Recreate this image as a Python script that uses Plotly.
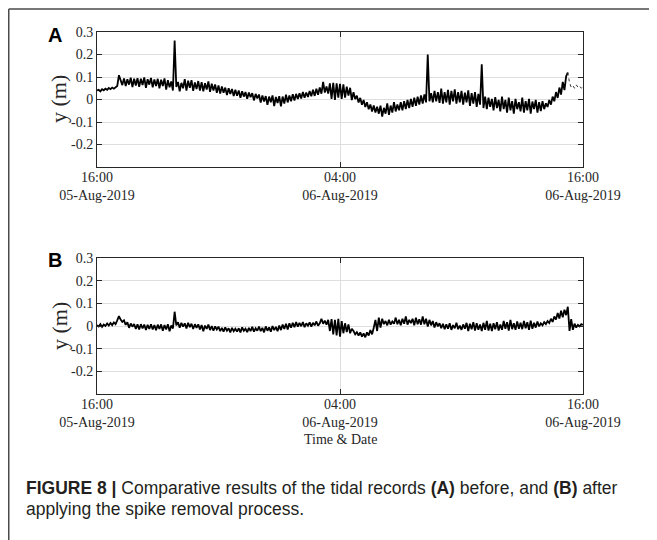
import pandas as pd
import plotly.graph_objects as go

# ---------------- data (metres, 5-minute samples from 16:00 05-Aug-2019) ----------------
y_before = [
    # 16:00
    0.040, 0.043, 0.036, 0.046, 0.041, 0.048, 0.043, 0.051, 0.046, 0.053, 0.048, 0.056,
    # 17:00
    0.060, 0.108, 0.082, 0.064, 0.094, 0.060, 0.090, 0.066, 0.097, 0.055, 0.092, 0.062,
    # 18:00
    0.095, 0.056, 0.092, 0.064, 0.098, 0.052, 0.090, 0.066, 0.096, 0.054, 0.089, 0.060,
    # 19:00
    0.092, 0.050, 0.088, 0.060, 0.094, 0.044, 0.086, 0.054, 0.080, 0.040, 0.262, 0.056,
    # 20:00
    0.078, 0.036, 0.074, 0.050, 0.090, 0.040, 0.084, 0.052, 0.086, 0.038, 0.076, 0.046,
    # 21:00
    0.082, 0.040, 0.077, 0.036, 0.072, 0.044, 0.080, 0.034, 0.070, 0.040, 0.067, 0.030,
    # 22:00
    0.062, 0.026, 0.058, 0.030, 0.053, 0.020, 0.050, 0.025, 0.047, 0.015, 0.043, 0.017,
    # 23:00
    0.040, 0.008, 0.037, 0.013, 0.033, 0.003, 0.031, 0.010, 0.028, -0.004, 0.025, 0.005,
    # 00:00
    0.022, -0.014, 0.018, -0.009, 0.015, -0.024, 0.013, -0.012, 0.018, -0.029, 0.011, -0.016,
    # 01:00
    0.015, -0.030, 0.013, -0.018, 0.021, -0.013, 0.018, -0.008, 0.023, -0.004, 0.025, 0.002,
    # 02:00
    0.028, 0.004, 0.033, 0.008, 0.031, 0.011, 0.038, 0.014, 0.043, 0.016, 0.048, 0.021,
    # 03:00
    0.053, 0.026, 0.078, 0.031, 0.058, 0.026, 0.072, 0.003, 0.074, -0.002, 0.072, 0.008,
    # 04:00
    0.070, 0.003, 0.067, 0.008, 0.057, 0.017, 0.052, -0.003, 0.032, 0.002, 0.017, -0.013,
    # 05:00
    0.007, -0.023, -0.002, -0.033, -0.012, -0.043, -0.022, -0.053, -0.027, -0.058, -0.032, -0.063,
    # 06:00
    -0.027, -0.076, -0.037, -0.063, -0.017, -0.068, -0.027, -0.058, -0.012, -0.053, -0.022, -0.048,
    # 07:00
    -0.012, -0.048, -0.007, -0.043, -0.002, -0.038, 0.003, -0.033, 0.008, -0.028, 0.013, -0.023,
    # 08:00
    0.018, -0.018, 0.023, -0.013, 0.200, -0.008, 0.028, -0.013, 0.038, -0.008, 0.033, -0.015,
    # 09:00
    0.048, -0.018, 0.033, -0.013, 0.043, -0.023, 0.038, -0.008, 0.045, -0.018, 0.033, -0.013,
    # 10:00
    0.038, -0.023, 0.031, -0.013, 0.041, -0.028, 0.028, -0.018, 0.033, -0.033, 0.025, -0.023,
    # 11:00
    0.157, -0.038, 0.013, -0.043, 0.008, -0.033, 0.003, -0.048, 0.011, -0.038, -0.002, -0.053,
    # 12:00
    0.013, -0.043, -0.002, -0.058, 0.008, -0.048, -0.007, -0.063, 0.003, -0.043, -0.012, -0.053,
    # 13:00
    0.008, -0.058, -0.007, -0.048, 0.003, -0.063, -0.009, -0.043, -0.002, -0.058, -0.012, -0.051,
    # 14:00
    -0.007, -0.043, -0.017, -0.033, -0.002, -0.023, 0.013, -0.008, 0.033, 0.007, 0.053, 0.022,
    # 15:00
    0.078, 0.042, 0.103, 0.120,
]
y_before_tail = [0.120, 0.075, 0.055, 0.062, 0.050, 0.065, 0.055, 0.060, 0.050, 0.058]

y_after = [
    # 16:00
    0.003, -0.002, 0.008, -0.004, 0.006, 0.000, 0.011, 0.002, 0.013, 0.004, 0.016, 0.008,
    # 17:00
    0.025, 0.044, 0.028, 0.018, 0.025, 0.005, 0.016, -0.008, 0.011, -0.003, 0.009, -0.013,
    # 18:00
    0.007, -0.015, 0.008, -0.011, 0.006, -0.018, 0.005, -0.013, 0.008, -0.015, 0.004, -0.019,
    # 19:00
    0.006, -0.013, 0.007, -0.021, 0.004, -0.015, 0.008, -0.023, 0.002, -0.011, 0.063, 0.003,
    # 20:00
    0.017, -0.008, 0.014, -0.003, 0.012, -0.011, 0.014, -0.005, 0.010, -0.013, 0.008, -0.008,
    # 21:00
    0.007, -0.015, 0.004, -0.023, 0.002, -0.013, 0.006, -0.018, 0.000, -0.021, -0.002, -0.015,
    # 22:00
    -0.003, -0.023, -0.008, -0.025, -0.006, -0.021, -0.010, -0.028, -0.008, -0.023, -0.012, -0.025,
    # 23:00
    -0.010, -0.028, -0.006, -0.021, -0.012, -0.027, -0.008, -0.023, -0.004, -0.025, -0.010, -0.021,
    # 00:00
    -0.003, -0.023, -0.008, -0.028, -0.002, -0.021, -0.006, -0.025, 0.000, -0.018, -0.004, -0.023,
    # 01:00
    0.002, -0.018, 0.006, -0.013, 0.010, -0.015, 0.012, -0.008, 0.014, -0.005, 0.017, -0.003,
    # 02:00
    0.014, -0.001, 0.017, -0.005, 0.012, 0.001, 0.016, -0.003, 0.014, 0.003, 0.020, 0.001,
    # 03:00
    0.012, 0.032, 0.010, 0.024, 0.006, 0.027, -0.022, 0.030, -0.037, 0.027, -0.042, 0.032,
    # 04:00
    -0.047, 0.022, -0.032, 0.012, -0.027, 0.007, -0.032, -0.012, -0.022, -0.037, -0.027, -0.042,
    # 05:00
    -0.028, -0.047, -0.033, -0.050, -0.028, -0.042, -0.018, -0.037, -0.008, 0.027, -0.022, 0.037,
    # 06:00
    -0.007, 0.032, 0.008, 0.022, 0.003, 0.027, 0.006, 0.020, 0.010, 0.037, 0.008, 0.027,
    # 07:00
    0.003, 0.032, 0.010, 0.042, 0.006, 0.027, 0.013, 0.032, 0.003, 0.037, 0.008, 0.030,
    # 08:00
    0.006, 0.042, 0.008, 0.032, -0.002, 0.027, 0.003, 0.022, -0.007, 0.017, -0.002, 0.012,
    # 09:00
    -0.010, 0.010, -0.014, 0.007, -0.012, 0.012, -0.017, 0.004, -0.010, 0.014, -0.014, 0.002,
    # 10:00
    -0.017, 0.007, -0.012, 0.014, -0.022, 0.010, -0.014, 0.017, -0.020, 0.012, -0.017, 0.007,
    # 11:00
    -0.022, 0.014, -0.017, 0.022, -0.020, 0.010, -0.022, 0.012, -0.014, 0.017, -0.020, 0.007,
    # 12:00
    -0.017, 0.022, -0.012, 0.017, -0.020, 0.027, -0.014, 0.012, -0.017, 0.020, -0.012, 0.014,
    # 13:00
    -0.014, 0.022, -0.010, 0.017, -0.017, 0.024, -0.012, 0.014, -0.007, 0.020, -0.002, 0.012,
    # 14:00
    0.003, 0.017, 0.008, 0.022, 0.013, 0.032, 0.018, 0.042, 0.028, 0.057, 0.033, 0.067,
    # 15:00
    0.038, 0.072, 0.048, 0.085, -0.022, 0.030, -0.017, 0.010, -0.007, 0.005, -0.002, 0.008,
    # 16:00
    0.005,
]

x_ticks = ["2019-08-05 16:00", "2019-08-06 04:00", "2019-08-06 16:00"]
x_tick_labels = ["16:00<br>05-Aug-2019", "04:00<br>06-Aug-2019", "16:00<br>06-Aug-2019"]
y_ticks = [-0.3, -0.2, -0.1, 0, 0.1, 0.2, 0.3]
y_tick_labels = ["", "-0.2", "-0.1", "0", "0.1", "0.2", "0.3"]
caption_1 = "<b>FIGURE 8 |</b> Comparative results of the tidal records <b>(A)</b> before, and <b>(B)</b> after"
caption_2 = "applying the spike removal process."

# ---------------- build ----------------
start = pd.Timestamp("2019-08-05 16:00")
t_before = pd.date_range(start, periods=len(y_before), freq="5min")
t_tail = pd.date_range(t_before[-1], periods=len(y_before_tail), freq="5min")
t_after = pd.date_range(start, periods=len(y_after), freq="5min")

# page body keeps its default 8px margin, so the figure is 8px smaller than the window
OFF = 8
W, H = 657 - OFF, 540 - OFF
def px(x):
    return (x - OFF) / W
def py(y):
    return 1 - (y - OFF) / H

fig = go.Figure()
fig.add_trace(go.Scatter(x=t_before, y=y_before, mode="lines",
                         line=dict(color="black", width=1.8), xaxis="x", yaxis="y", showlegend=False))
fig.add_trace(go.Scatter(x=t_tail, y=y_before_tail, mode="lines",
                         line=dict(color="#333333", width=1, dash="dot"), xaxis="x", yaxis="y", showlegend=False))
fig.add_trace(go.Scatter(x=t_after, y=y_after, mode="lines",
                         line=dict(color="black", width=1.8), xaxis="x2", yaxis="y2", showlegend=False))

serif = "Liberation Serif, Times New Roman, serif"
sans = "Liberation Sans, Arial, Helvetica, sans-serif"
tick_font = dict(family=serif, size=14, color="#262626")
axcol = "#262626"
xcommon = dict(type="date", range=[x_ticks[0], x_ticks[-1]], tickvals=x_ticks, ticktext=x_tick_labels,
               ticks="inside", ticklen=5, tickcolor=axcol, showline=True, linecolor=axcol, linewidth=1,
               mirror="ticks", showgrid=True, gridcolor="#dedede", gridwidth=1, tickfont=tick_font,
               ticklabelstandoff=-3, zeroline=False, fixedrange=True, automargin=False)
ycommon = dict(range=[-0.3, 0.3], tickvals=y_ticks, ticktext=y_tick_labels,
               ticks="inside", ticklen=5, tickcolor=axcol, showline=True, linecolor=axcol, linewidth=1,
               mirror="ticks", showgrid=True, gridcolor="#dedede", gridwidth=1, tickfont=tick_font,
               zeroline=False, fixedrange=True, automargin=False)

xdom = [px(97), px(583)]
fig.update_layout(
    template="none",
    width=W, height=H, autosize=False, margin=dict(l=0, r=0, t=0, b=0, pad=0),
    paper_bgcolor="white", plot_bgcolor="white",
    xaxis=dict(domain=xdom, anchor="y", **xcommon),
    yaxis=dict(domain=[py(167), py(32)], anchor="x", **ycommon),
    xaxis2=dict(domain=xdom, anchor="y2", **xcommon),
    yaxis2=dict(domain=[py(394), py(258)], anchor="x2", **ycommon),
)

def note(text, x, y, font, xanchor="center", angle=0):
    return dict(text=text, x=px(x), y=py(y), xref="paper", yref="paper", xanchor=xanchor,
                yanchor="middle", textangle=angle, showarrow=False, font=font)

ann = []
for letter, yc, ylab in (("A", 35, 99), ("B", 260, 326)):
    ann.append(note(f"<b>{letter}</b>", 55, yc, dict(family=sans, size=20, color="black")))
    ann.append(note("y (m)", 59, ylab, dict(family=serif, size=22, color="#262626"), angle=-90))
ann.append(note("Time & Date", 340, 439, dict(family=serif, size=14, color="#262626")))
ann.append(note(caption_1, 24, 488, dict(family=sans, size=17.5, color="#231f20"), xanchor="left"))
ann.append(note(caption_2, 24, 509, dict(family=sans, size=17.5, color="#231f20"), xanchor="left"))
fig.update_layout(annotations=ann)

fig.update_layout(shapes=[
    dict(type="line", xref="paper", yref="paper", x0=px(8.75), x1=1.05, y0=py(9), y1=py(9),
         line=dict(color="#4a4a4a", width=1.5)),
    dict(type="line", xref="paper", yref="paper", x0=px(8.75), x1=px(8.75), y0=py(9), y1=-0.05,
         line=dict(color="#4a4a4a", width=1.5)),
])

fig.write_html("out.html")
